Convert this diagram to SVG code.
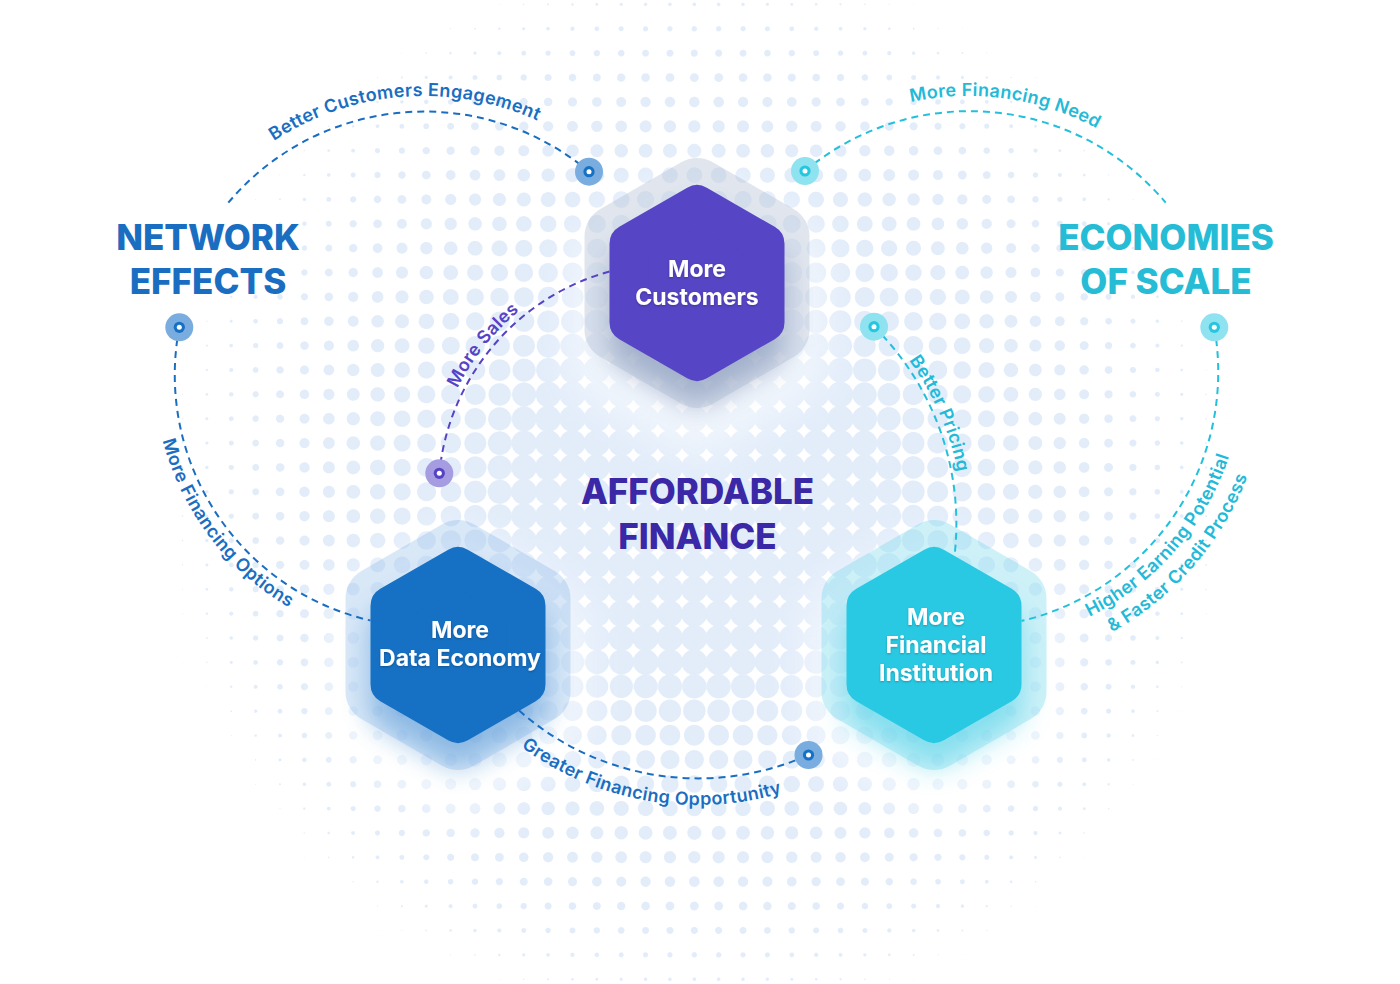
<svg xmlns="http://www.w3.org/2000/svg" width="1400" height="984" viewBox="0 0 1400 984">
<style>
text{font-family:Inter,"Noto Sans","Liberation Sans",sans-serif}
.hexT{font-weight:700;font-size:23px;fill:#fff;text-anchor:middle}
.title{font-weight:800;font-size:35px;text-anchor:middle}
.lbl{font-size:18px;font-weight:600;letter-spacing:0.35px;text-anchor:middle}
.dash{fill:none;stroke-width:2;stroke-dasharray:7 5}
.main{stroke-width:39.2;stroke-linejoin:round}
.outer{stroke-width:63.4;stroke-linejoin:round}
.sblue{stroke:#1a6ec2}
.scyan{stroke:#22c0dc}
.spurple{stroke:#5643c4}
.fblue{fill:#1a6ec2}
.fcyan{fill:#22bad8}
.fpurple{fill:#5643c4}
.fdeep{fill:#3a28a7}
</style>
<defs>
  <radialGradient id="cellGrad" cx="0.5" cy="0.5" r="0.7071">
    <stop offset="0" stop-color="#000"/><stop offset="1" stop-color="#fff"/>
  </radialGradient>
  <pattern id="cell" patternUnits="userSpaceOnUse" x="682.1125" y="-7.8875" width="24.375" height="24.375">
    <rect width="24.375" height="24.375" fill="url(#cellGrad)"/>
  </pattern>
  <radialGradient id="glob" gradientUnits="userSpaceOnUse" cx="697" cy="492" r="602">
    <stop offset="0" stop-color="#474747"/><stop offset="0.28" stop-color="#474747"/><stop offset="1" stop-color="#fff"/>
  </radialGradient>
  <filter id="half" filterUnits="userSpaceOnUse" x="0" y="0" width="1400" height="984" color-interpolation-filters="sRGB">
    <feColorMatrix type="matrix" values="0 0 0 0 0.890  0 0 0 0 0.929  0 0 0 0 0.980  -40 0 0 0 20.23"/>
  </filter>
  <filter id="fog" x="-60%" y="-60%" width="220%" height="220%"><feGaussianBlur stdDeviation="18"/></filter>
  <filter id="shd" x="-60%" y="-60%" width="220%" height="220%"><feGaussianBlur stdDeviation="14"/></filter>
  <filter id="ts" x="-10%" y="-40%" width="120%" height="180%"><feDropShadow dx="0" dy="1" stdDeviation="1.2" flood-color="#000" flood-opacity="0.25"/></filter>
  <polygon id="hm" points="0,-78.4 67.9,-39.2 67.9,39.2 0,78.4 -67.9,39.2 -67.9,-39.2"/>
  <polygon id="ho" points="0,-93.3 80.8,-46.65 80.8,46.65 0,93.3 -80.8,46.65 -80.8,-46.65"/>
  <path id="p1" d="M 202.8 209.7 A 272 272 0 0 1 618.3 177.7"/>
  <path id="p2" d="M 754 200.2 A 272 272 0 0 1 1220.4 266.5"/>
  <path id="p3" d="M 167.2 288.1 A 273 273 0 0 0 437 644.8"/>
  <path id="p4a" d="M 939.3 643.5 A 275 275 0 0 0 1234.8 303.5"/>
  <path id="p4b" d="M 936.5 667.4 A 299 299 0 0 0 1258.1 297.7"/>
  <path id="p5" d="M 436.7 543.4 A 240 240 0 0 1 666.1 256.1"/>
  <path id="p6" d="M 759.7 254.7 A 284 284 0 0 1 933.2 653.7"/>
  <path id="p7" d="M 418 608.9 A 298 298 0 0 0 926.3 698.6"/>
</defs>

<rect width="1400" height="984" fill="#fff"/>

<g id="dots" filter="url(#half)">
  <rect width="1400" height="984" fill="#fff"/>
  <rect width="1400" height="984" fill="url(#cell)"/>
  <rect width="1400" height="984" fill="url(#glob)" opacity="0.55"/>
</g>

<g id="node-customers" transform="translate(697,283)">
  <use href="#ho" class="outer" fill="#fff" stroke="#fff" opacity="0.55" filter="url(#fog)" transform="translate(0,30) scale(1.1)"/>
  <use href="#hm" class="main" fill="#40588f" stroke="#40588f" opacity="0.45" filter="url(#shd)" transform="translate(0,24)"/>
  <use href="#ho" class="outer" fill="#a3b3cc" stroke="#a3b3cc" opacity="0.32"/>
  <use href="#hm" class="main" fill="#5645c4" stroke="#5645c4"/>
  <g filter="url(#ts)"><text class="hexT" x="0" y="-6">More</text><text class="hexT" x="0" y="22">Customers</text></g>
</g>

<g id="node-data-economy" transform="translate(458,645)">
  <use href="#ho" class="outer" fill="#fff" stroke="#fff" opacity="0.55" filter="url(#fog)" transform="translate(0,30) scale(1.1)"/>
  <use href="#hm" class="main" fill="#1670c3" stroke="#1670c3" opacity="0.45" filter="url(#shd)" transform="translate(0,24)"/>
  <use href="#ho" class="outer" fill="#6aa6e3" stroke="#6aa6e3" opacity="0.25"/>
  <use href="#hm" class="main" fill="#1670c3" stroke="#1670c3"/>
  <g filter="url(#ts)"><text class="hexT" x="2" y="-6.7">More</text><text class="hexT" x="2" y="20.7">Data Economy</text></g>
</g>

<g id="node-financial" transform="translate(934,645)">
  <use href="#ho" class="outer" fill="#fff" stroke="#fff" opacity="0.55" filter="url(#fog)" transform="translate(0,30) scale(1.1)"/>
  <use href="#hm" class="main" fill="#29c9e3" stroke="#29c9e3" opacity="0.5" filter="url(#shd)" transform="translate(0,24)"/>
  <use href="#ho" class="outer" fill="#5fd3ea" stroke="#5fd3ea" opacity="0.3"/>
  <use href="#hm" class="main" fill="#29c9e3" stroke="#29c9e3"/>
  <g filter="url(#ts)"><text class="hexT" x="2" y="-20">More</text><text class="hexT" x="2" y="7.7">Financial</text><text class="hexT" x="2" y="36">Institution</text></g>
</g>

<g id="connectors">
  <path class="dash sblue" d="M 228.3 202.7 A 256 256 0 0 1 589 171.7"/>
  <path class="dash scyan" d="M 805 171 A 256 256 0 0 1 1165.7 202.7"/>
  <path class="dash sblue" d="M 179.3 327.3 A 252 252 0 0 0 370.5 620.5"/>
  <path class="dash scyan" d="M 1214.3 327.3 A 256 256 0 0 1 1021.5 621"/>
  <path class="dash spurple" d="M 609.5 271.5 A 233 233 0 0 0 439.3 473.3"/>
  <path class="dash scyan" d="M 874 326.7 A 277 277 0 0 1 954.5 556"/>
  <path class="dash sblue" d="M 519.1 710.6 A 271 271 0 0 0 808.5 755"/>

  <g id="pins">
    <circle cx="589" cy="171.7" r="14" fill="#7aaddf"/><circle cx="589" cy="171.7" r="5.6" fill="#1670c3"/><circle cx="589" cy="171.7" r="2.5" fill="#fff"/>
    <circle cx="179.3" cy="327.3" r="14" fill="#7aaddf"/><circle cx="179.3" cy="327.3" r="5.6" fill="#1670c3"/><circle cx="179.3" cy="327.3" r="2.5" fill="#fff"/>
    <circle cx="808.5" cy="755" r="14" fill="#7aaddf"/><circle cx="808.5" cy="755" r="5.6" fill="#1670c3"/><circle cx="808.5" cy="755" r="2.5" fill="#fff"/>
    <circle cx="805" cy="171" r="14" fill="#8fe2ef"/><circle cx="805" cy="171" r="5.6" fill="#25c6e0"/><circle cx="805" cy="171" r="2.5" fill="#fff"/>
    <circle cx="874" cy="326.7" r="14" fill="#8fe2ef"/><circle cx="874" cy="326.7" r="5.6" fill="#25c6e0"/><circle cx="874" cy="326.7" r="2.5" fill="#fff"/>
    <circle cx="1214.3" cy="327.3" r="14" fill="#8fe2ef"/><circle cx="1214.3" cy="327.3" r="5.6" fill="#25c6e0"/><circle cx="1214.3" cy="327.3" r="2.5" fill="#fff"/>
    <circle cx="439.3" cy="473.3" r="14" fill="#a59ce2"/><circle cx="439.3" cy="473.3" r="5.6" fill="#5643c4"/><circle cx="439.3" cy="473.3" r="2.5" fill="#fff"/>
  </g>

  <g id="labels">
    <text class="lbl fblue"><textPath href="#p1" startOffset="50%">Better Customers Engagement</textPath></text>
    <text class="lbl fcyan"><textPath href="#p2" startOffset="50%">More Financing Need</textPath></text>
    <text class="lbl fblue"><textPath href="#p3" startOffset="50%">More Financing Options</textPath></text>
    <text class="lbl fcyan"><textPath href="#p4a" startOffset="50%">Higher Earning Potential</textPath></text>
    <text class="lbl fcyan"><textPath href="#p4b" startOffset="50%">&amp; Faster Credit Process</textPath></text>
    <text class="lbl fpurple"><textPath href="#p5" startOffset="50%">More Sales</textPath></text>
    <text class="lbl fcyan"><textPath href="#p6" startOffset="50%">Better Pricing</textPath></text>
    <text class="lbl fblue"><textPath href="#p7" startOffset="50%">Greater Financing Opportunity</textPath></text>
  </g>
</g>

<g id="titles">
  <text class="title fblue" x="208" y="249.5">NETWORK</text>
  <text class="title fblue" x="208" y="293.5">EFFECTS</text>
  <text class="title" x="1166" y="250" fill="#26bcd6">ECONOMIES</text>
  <text class="title" x="1166" y="294" fill="#26bcd6">OF SCALE</text>
  <text class="title fdeep" x="697.5" y="503.5">AFFORDABLE</text>
  <text class="title fdeep" x="697.5" y="548.5">FINANCE</text>
</g>
</svg>
